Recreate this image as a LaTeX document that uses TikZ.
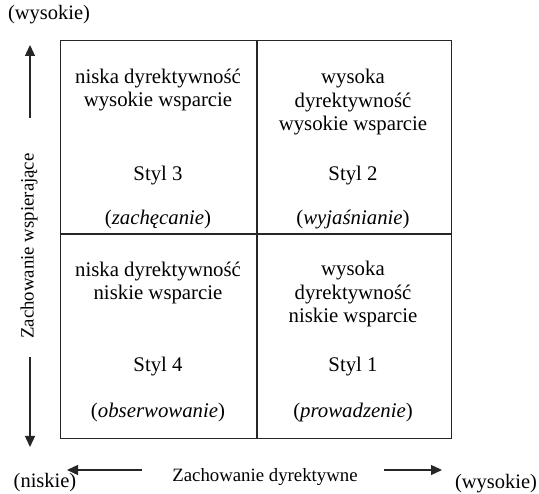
\documentclass[tikz,border=0pt]{standalone}
\usepackage{fontspec}
\setmainfont{Liberation Serif}
\usetikzlibrary{arrows.meta}

\begin{document}
\begin{tikzpicture}[
    x=1pt, y=-1pt,
    >={Triangle[length=11pt,width=10pt]},
    cell_node/.style={
        rectangle,
        draw=black!85,
        line width=1pt,
        anchor=north west,
        inner sep=0pt
    },
    text_node/.style={
        align=center,
        anchor=base,
        inner sep=0pt,
        font=\fontsize{20.8}{23.5}\selectfont
    },
    end_node/.style={
        anchor=base,
        inner sep=0pt,
        font=\fontsize{20.5}{23}\selectfont
    },
    axis_node/.style={
        inner sep=0pt,
        font=\fontsize{18.8}{21}\selectfont
    },
    axis_arrow/.style={
        ->,
        line width=1.3pt,
        color=black!85
    }
]
    \useasboundingbox (0,0) rectangle (539,494);

    % Quadrants
    \node (q3) [cell_node, minimum width=196pt, minimum height=193pt] at (60,40) {};
    \node (q2) [cell_node, minimum width=194pt, minimum height=193pt] at (q3.north east) {};
    \node (q4) [cell_node, minimum width=196pt, minimum height=204pt] at (q3.south west) {};
    \node (q1) [cell_node, minimum width=194pt, minimum height=204pt] at (q3.south east) {};

    % Quadrant texts (base = last line)
    \node (d3) [text_node] at (158,107) {niska dyrektywność\\wysokie wsparcie};
    \node (s3) [text_node] at (158,181) {Styl 3};
    \node (n3) [text_node] at (158,225) {(\textit{zachęcanie})};

    \node (d2) [text_node] at (353,131) {wysoka\\dyrektywność\\wysokie wsparcie};
    \node (s2) [text_node] at (353,181) {Styl 2};
    \node (n2) [text_node] at (353,225) {(\textit{wyjaśnianie})};

    \node (d4) [text_node] at (158,300) {niska dyrektywność\\niskie wsparcie};
    \node (s4) [text_node] at (158,372) {Styl 4};
    \node (n4) [text_node] at (158,418) {(\textit{obserwowanie})};

    \node (d1) [text_node] at (353,323) {wysoka\\dyrektywność\\niskie wsparcie};
    \node (s1) [text_node] at (353,372) {Styl 1};
    \node (n1) [text_node] at (353,418) {(\textit{prowadzenie})};

    % Axis labels
    \node (top_high) [end_node] at (49,20) {(wysokie)};
    \node (left_low) [end_node] at (45,488) {(niskie)};
    \node (right_high) [end_node] at (496,489) {(wysokie)};
    \node (support) [axis_node, rotate=90] at (29,246) {Zachowanie wspierające};
    \node (directive) [axis_node, anchor=base] at (265,482) {Zachowanie dyrektywne};

    % Axis arrows
    \coordinate (up_tail) at (30,118);
    \coordinate (up_head) at (30,45);
    \coordinate (down_tail) at (30,357);
    \coordinate (down_head) at (30,447);
    \coordinate (left_tail) at (142,470);
    \coordinate (left_head) at (67,470);
    \coordinate (right_tail) at (384,470);
    \coordinate (right_head) at (442,470);

    \draw [axis_arrow] (up_tail) -- (up_head);
    \draw [axis_arrow] (down_tail) -- (down_head);
    \draw [axis_arrow] (left_tail) -- (left_head);
    \draw [axis_arrow] (right_tail) -- (right_head);

\end{tikzpicture}
\end{document}
